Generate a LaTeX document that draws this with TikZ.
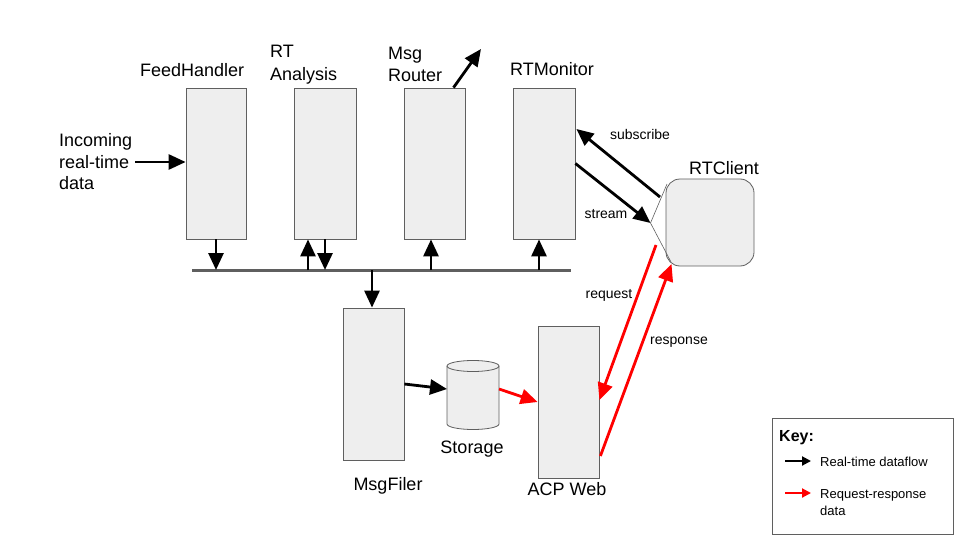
\documentclass[tikz,border=0pt]{standalone}
\usepackage{fontspec}
\setmainfont{Liberation Sans}
\usetikzlibrary{arrows.meta}
\definecolor{boxfill}{HTML}{EEEEEE}
\definecolor{boxline}{HTML}{5F5F5F}
\tikzset{
  compbox/.style={draw=boxline, line width=0.8pt, fill=boxfill, inner sep=0pt},
  lbl/.style={font=\fontsize{18}{22.5}\selectfont, inner sep=0pt, align=left},
  small/.style={font=\fontsize{14}{17}\selectfont, inner sep=0pt},
  keytxt/.style={font=\fontsize{13}{17}\selectfont, inner sep=0pt, align=left, anchor=west},
  flow/.style={line width=2.8pt, -{Triangle[length=17pt,width=15pt]}},
  rflow/.style={flow, draw=red},
  keyflow/.style={line width=2pt, -{Triangle[length=9pt,width=9pt]}},
  busline/.style={line width=3pt, draw=boxline}
}
\begin{document}
\begin{tikzpicture}[x=1pt,y=-1pt]
\useasboundingbox (0,0) rectangle (960,540);
% component boxes
\node[compbox, minimum width=60pt, minimum height=151pt] (fh) at (216,163.5) {};
\node[compbox, minimum width=62pt, minimum height=151pt] (ra) at (325,163.5) {};
\node[compbox, minimum width=61pt, minimum height=151pt] (mr) at (434.5,163.5) {};
\node[compbox, minimum width=62pt, minimum height=151pt] (rm) at (544,163.5) {};
\node[compbox, minimum width=61pt, minimum height=152pt] (mf) at (373.5,384) {};
\node[compbox, minimum width=61pt, minimum height=152pt] (acp) at (568.5,402) {};
% labels
\node[lbl, anchor=west] (fhl) at (140,70) {FeedHandler};
\node[lbl, anchor=west] (ral) at (270,64.5) {RT\\Analysis};
\node[lbl, anchor=west] (mrl) at (388,64.5) {Msg\\Router};
\node[lbl, anchor=west] (rml) at (510,69) {RTMonitor};
\node[lbl] (mfl) at (388,486) {MsgFiler};
\node[lbl] (stl) at (472,449) {Storage};
\node[lbl] (acpl) at (567,489) {ACP Web};
\node[lbl, anchor=west, font=\fontsize{18}{21.5}\selectfont] (inc) at (59,162) {Incoming\\real-time\\data};
% bus
\coordinate (busL) at (192,270);
\coordinate (busR) at (571,270);
\draw[busline] (busL) -- (busR);
\draw[flow] (fh.south) -- (fh.south |- busL);
\draw[flow] ([xshift=-17pt]ra.south |- busL) -- ([xshift=-17pt]ra.south);
\draw[flow] (ra.south) -- (ra.south |- busL);
\draw[flow] ([xshift=-3.5pt]mr.south |- busL) -- ([xshift=-3.5pt]mr.south);
\draw[flow] ([xshift=-5pt]rm.south |- busL) -- ([xshift=-5pt]rm.south);
\draw[flow] ([xshift=-1.5pt]mf.north |- busL) -- ([xshift=-1.5pt]mf.north);
% incoming
\draw[flow] ([xshift=3pt,yshift=1.5pt]inc.east |- fh.west) -- ([yshift=1.5pt]fh.west);
% msg router out
\coordinate (mrout) at (481,49);
\draw[flow] ([xshift=19pt]mr.north) -- (mrout);
% storage cylinder
\draw[draw=boxline, line width=0.8pt, fill=boxfill]
  (447,366) -- (447,424) arc (180:360:26pt and 5.5pt) -- (499,366) arc (0:180:26pt and 5.5pt) -- cycle;
\draw[draw=boxline, line width=0.8pt] (447,366) arc (180:360:26pt and 5.5pt);
\node[inner sep=0pt, minimum width=52pt, minimum height=68pt] (st) at (473,395) {};
\draw[flow] (mf.east) -- (447,389);
\draw[rflow] (499,389) -- (acp.west);
% RTClient callout
\node[compbox, rounded corners=14pt, minimum width=88pt, minimum height=87pt] (rc) at (710,222.5) {};
\coordinate (rcptr) at (650.5,223);
\draw[draw=boxline, line width=0.6pt] (667,184) -- (rcptr) -- (671,262);
\node[lbl] (rcl) at (724,168) {RTClient};
\coordinate (rcsub) at (660,197);
\coordinate (rcreq) at (656,245);
\coordinate (rcresp) at (671.5,264);
\draw[flow] (rcsub) -- ([yshift=34.5pt,xshift=1pt]rm.east);
\draw[flow] (rm.east) -- (rcptr);
\draw[rflow] (rcreq) -- ([yshift=2pt]acp.east);
\draw[rflow] ([yshift=-54pt,xshift=1pt]acp.east) -- (rcresp);
\node[small] (subl) at (640,134) {subscribe};
\node[small] (strl) at (606,214) {stream};
\node[small] (reql) at (609,295) {request};
\node[small] (respl) at (679,342) {response};
% key
\node[draw=boxline, line width=0.8pt, fill=white, minimum width=181pt, minimum height=116pt, inner sep=0pt] (key) at (862.5,476) {};
\node[font=\bfseries\fontsize{16}{19}\selectfont, inner sep=0pt, anchor=west] (keyt) at (779,438) {Key:};
\coordinate (k1a) at (785,461);
\coordinate (k1b) at (811,461);
\coordinate (k2a) at (785,493);
\coordinate (k2b) at (811,493);
\draw[keyflow] (k1a) -- (k1b);
\draw[keyflow, draw=red] (k2a) -- (k2b);
\node[keytxt] (kt1) at (820,462) {Real-time dataflow};
\node[keytxt, font=\fontsize{13}{17}\selectfont] (kt2) at (820,503) {Request-response\\data};
\end{tikzpicture}
\end{document}
